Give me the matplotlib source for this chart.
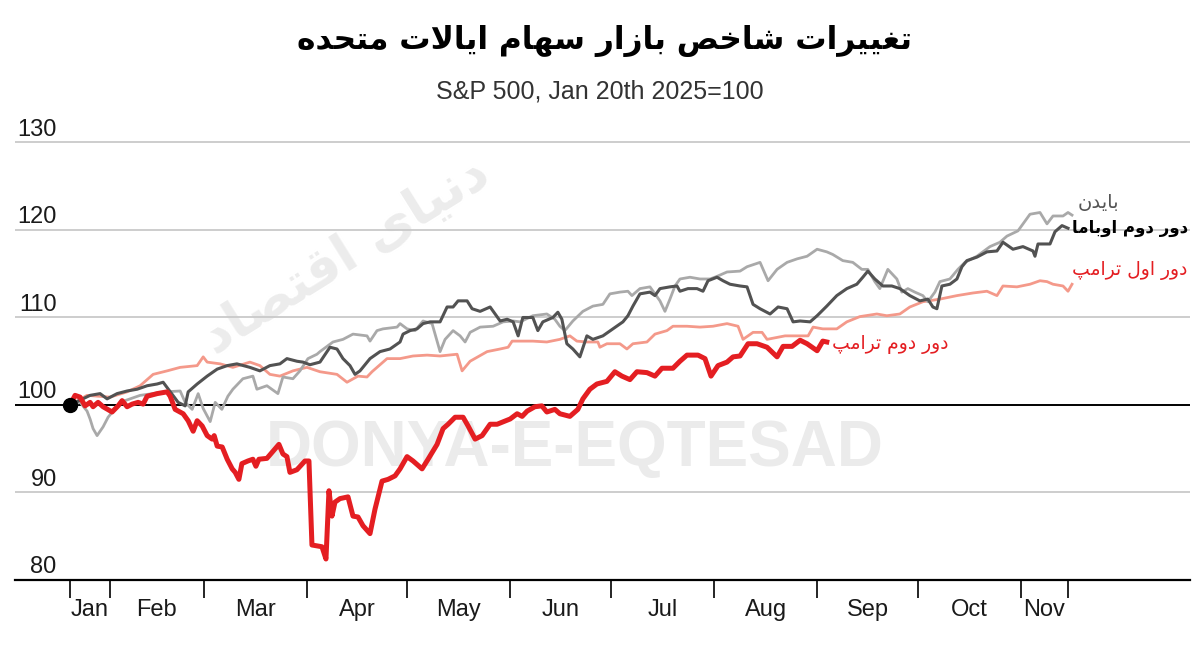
import datetime as dt
import matplotlib
matplotlib.use("Agg")
import matplotlib.pyplot as plt
from matplotlib import font_manager

# ---------------- data (days since Jan 20, index value) ----------------
trump2_days = [0, 1.5, 3.0, 4.5, 6.0, 6.9, 8.4, 9.9, 12.6, 14.4, 15.6, 17.1, 18.6, 20.4, 21.9, 23.1, 26.1,
               29.1, 30.0, 31.5, 33.9, 35.4, 36.9, 38.1, 39.6, 41.1, 42.6, 43.2, 44.1, 45.6, 47.1, 48.6,
               49.5, 50.6, 51.5, 53.3, 54.8, 55.7, 56.6, 59.0, 60.8, 62.6, 63.8, 65.0, 65.9, 68.0, 70.4,
               71.6, 72.5, 75.5, 76.7, 77.6, 78.5, 79.4, 80.9, 83.3, 84.8, 86.3, 87.8, 89.9, 91.4, 93.5,
               95.3, 97.4, 98.9, 101.0, 102.8, 105.5, 107.3, 110.0, 111.8, 113.3, 115.4, 117.8, 119.3,
               121.4, 123.5, 125.9, 128.0, 131.9, 134.0, 135.5, 137.0, 139.3, 141.4, 142.9, 145.3, 146.8,
               149.8, 152.2, 153.7, 155.8, 157.9, 160.9, 163.3, 165.4, 167.8, 169.9, 172.9, 175.3, 177.4,
               180.7, 182.8, 184.9, 188.2, 190.3, 192.1, 194.2, 196.9, 198.7, 200.8, 203.2, 205.9, 208.9,
               211.9, 213.7, 216.4, 218.8, 220.9, 223.9, 225.6, 226.8]
trump2_vals = [100.0, 101.1, 100.9, 99.9, 100.3, 99.8, 100.3, 99.8, 99.2, 99.9, 100.5, 99.8, 100.1, 100.3,
               100.1, 101.0, 101.3, 101.5, 101.0, 99.5, 99.0, 98.2, 97.0, 98.2, 97.6, 96.5, 96.1, 96.5,
               95.3, 95.2, 93.8, 92.7, 92.3, 91.5, 93.3, 93.6, 93.8, 93.0, 93.8, 93.9, 94.7, 95.5, 94.4,
               94.1, 92.3, 92.6, 93.6, 93.6, 84.0, 83.8, 82.4, 90.2, 87.3, 88.9, 89.3, 89.5, 87.3, 87.2,
               86.2, 85.3, 88.1, 91.3, 91.5, 91.9, 92.7, 94.1, 93.6, 92.7, 93.8, 95.5, 97.3, 97.8, 98.6,
               98.6, 97.6, 96.1, 96.5, 97.8, 97.8, 98.4, 99.0, 98.7, 99.3, 99.8, 99.9, 99.2, 99.5, 99.0,
               98.7, 99.5, 100.7, 101.8, 102.4, 102.7, 103.8, 103.3, 102.9, 103.8, 103.7, 103.3, 104.2,
               104.2, 105.0, 105.7, 105.7, 105.3, 103.3, 104.5, 104.9, 105.5, 105.6, 107.0, 107.0, 106.6,
               105.5, 106.7, 106.7, 107.4, 107.0, 106.2, 107.3, 107.2]

trump1_days = [0, 5.1, 12.0, 17.1, 21.0, 24.9, 29.1, 33.0, 38.1, 39.9, 41.1, 45.0, 48.8, 53.9, 56.9, 59.9,
               62.9, 66.8, 71.0, 74.9, 80.0, 83.0, 86.3, 89.0, 90.5, 95.0, 98.9, 102.8, 107.0, 110.9,
               116.0, 117.5, 119.9, 125.0, 128.9, 131.3, 132.5, 138.7, 142.9, 146.8, 149.8, 151.9, 154.9,
               158.2, 158.8, 160.9, 164.8, 166.9, 168.7, 172.9, 175.3, 178.9, 180.7, 184.9, 188.8, 192.7,
               196.9, 200.2, 201.7, 204.7, 207.4, 208.9, 214.3, 221.2, 222.7, 225.6, 229.8, 232.8, 236.7,
               241.8, 244.8, 248.7, 251.7, 255.6, 260.7, 265.8, 270.6, 274.8, 277.8, 279.6, 283.8, 287.7,
               290.7, 292.8, 294.6, 297.6, 299.1, 300.3]
trump1_vals = [100.0, 101.1, 100.9, 101.5, 102.2, 103.5, 103.9, 104.3, 104.5, 105.5, 104.9, 104.7, 104.3,
               104.9, 104.5, 103.5, 103.3, 103.9, 104.3, 103.8, 103.5, 102.6, 103.3, 103.2, 103.8, 105.3,
               105.3, 105.6, 105.7, 105.6, 105.8, 103.9, 105.0, 106.1, 106.4, 106.6, 107.3, 107.3, 107.2,
               107.5, 107.9, 107.3, 107.2, 107.2, 106.6, 107.0, 107.0, 106.4, 107.0, 107.2, 108.1, 108.5,
               109.0, 109.0, 108.9, 109.0, 109.3, 109.0, 107.5, 108.3, 108.3, 107.5, 107.9, 107.9, 108.9,
               108.7, 108.7, 109.5, 110.1, 110.4, 110.2, 110.4, 111.2, 111.8, 112.1, 112.5, 112.8, 113.0,
               112.5, 113.6, 113.5, 113.8, 114.2, 114.1, 113.8, 113.6, 113.0, 113.8]

biden_days = [0, 3.0, 5.1, 6.0, 6.9, 8.1, 9.9, 11.4, 15.0, 21.0, 28.5, 33.0, 34.5, 36.6, 38.4, 39.9, 42.0,
              43.5, 45.5, 47.3, 48.8, 51.8, 54.8, 56.0, 59.0, 62.3, 63.8, 66.8, 68.9, 71.3, 74.0, 74.9,
              78.8, 81.8, 84.8, 89.0, 89.9, 92.0, 93.8, 98.0, 98.9, 101.0, 103.4, 105.8, 108.5, 110.9,
              112.4, 114.8, 116.9, 118.4, 119.9, 122.9, 126.8, 129.8, 132.8, 134.9, 138.7, 142.9, 145.3,
              146.8, 148.3, 150.7, 153.7, 156.7, 159.7, 161.8, 164.8, 167.2, 168.4, 170.8, 173.8, 175.3,
              176.8, 178.3, 179.8, 181.3, 182.8, 185.8, 188.8, 191.8, 193.9, 196.9, 200.8, 202.9, 206.8,
              209.2, 211.9, 214.9, 217.9, 220.9, 223.9, 226.8, 228.6, 231.6, 234.6, 237.3, 239.1, 241.2,
              242.7, 245.1, 247.8, 249.3, 251.1, 253.2, 255.6, 257.1, 259.2, 260.7, 263.7, 266.1, 268.2,
              271.8, 275.7, 278.7, 280.8, 284.1, 287.7, 290.7, 292.8, 294.6, 297.6, 299.1, 300.3]
biden_vals = [100.0, 100.3, 99.3, 98.4, 97.3, 96.5, 97.5, 98.6, 100.3, 101.1, 101.5, 101.6, 100.3, 99.5,
              101.3, 99.6, 98.1, 100.3, 99.5, 101.0, 101.8, 103.0, 103.3, 101.8, 102.2, 101.3, 103.2,
              103.0, 103.9, 105.3, 105.8, 106.1, 107.2, 107.5, 108.1, 107.9, 107.3, 108.5, 108.7, 108.9,
              109.3, 108.7, 108.5, 109.6, 109.3, 106.1, 107.5, 108.5, 107.9, 107.2, 108.3, 108.9, 109.0,
              109.5, 109.6, 109.5, 110.2, 110.4, 109.8, 109.0, 108.5, 109.6, 110.7, 111.3, 111.5, 112.7,
              112.9, 113.0, 112.5, 113.3, 113.5, 112.7, 111.9, 110.7, 112.1, 113.6, 114.4, 114.6, 114.4,
              114.4, 114.7, 115.2, 115.3, 115.8, 116.3, 114.2, 115.5, 116.3, 116.7, 117.0, 117.8, 117.5,
              117.2, 116.5, 116.3, 115.5, 115.5, 114.1, 113.3, 115.5, 114.4, 112.9, 113.3, 112.9, 112.5,
              111.8, 112.9, 114.1, 114.4, 115.5, 116.3, 117.0, 118.1, 118.6, 119.3, 119.9, 121.8, 122.0,
              120.7, 121.6, 121.6, 122.0, 121.7]

obama_days = [0, 6.0, 9.0, 11.1, 14.1, 17.1, 20.1, 23.1, 26.1, 27.9, 32.4, 34.5, 35.4, 38.1, 41.1, 44.1,
              47.1, 50.0, 53.9, 56.9, 59.9, 62.9, 65.0, 68.0, 69.8, 71.9, 74.9, 77.9, 80.0, 81.8, 83.9,
              85.4, 86.9, 89.9, 92.9, 95.9, 98.9, 99.8, 101.9, 104.0, 105.8, 107.9, 110.9, 113.0, 114.8,
              116.3, 119.0, 120.5, 122.9, 125.9, 128.9, 131.0, 132.8, 134.3, 135.7, 138.7, 140.2, 141.7,
              144.7, 146.2, 147.4, 148.9, 150.7, 152.8, 154.9, 156.7, 159.7, 162.7, 165.7, 167.2, 168.7,
              170.8, 173.8, 175.3, 176.8, 179.8, 181.9, 182.8, 185.2, 187.9, 189.7, 191.2, 193.9, 195.7,
              197.8, 200.8, 202.9, 204.7, 206.8, 209.8, 212.2, 214.9, 216.7, 218.8, 221.8, 223.9, 226.8,
              229.8, 232.8, 235.8, 237.6, 239.1, 241.2, 243.6, 246.3, 248.7, 251.7, 254.7, 257.1, 258.6,
              259.8, 261.3, 263.7, 265.8, 267.3, 268.8, 271.8, 274.8, 277.8, 279.6, 282.6, 285.6, 288.6,
              289.2, 290.1, 293.7, 295.2, 297.3, 299.1]
obama_vals = [100.0, 101.1, 101.3, 100.7, 101.3, 101.6, 101.8, 102.2, 102.4, 102.6, 100.3, 99.9, 101.5,
              102.4, 103.3, 104.1, 104.5, 104.7, 104.3, 103.9, 104.5, 104.7, 105.3, 105.0, 104.9, 104.6,
              104.9, 106.6, 106.4, 105.3, 104.5, 103.5, 103.9, 105.3, 106.1, 106.4, 107.2, 108.1, 108.5,
              108.7, 109.3, 109.5, 109.5, 111.2, 111.2, 111.9, 111.9, 111.0, 110.7, 111.2, 109.6, 109.8,
              109.5, 107.9, 110.0, 110.0, 108.5, 109.5, 110.0, 110.6, 109.8, 107.0, 106.4, 105.5, 107.9,
              107.5, 107.9, 108.7, 109.5, 110.2, 111.3, 112.7, 112.9, 112.5, 113.3, 113.5, 113.6, 113.0,
              113.3, 113.3, 113.0, 114.2, 114.6, 114.2, 113.8, 113.6, 113.5, 111.5, 111.0, 110.4, 111.2,
              111.0, 109.5, 109.6, 109.5, 110.2, 111.3, 112.5, 113.3, 113.8, 114.6, 115.3, 114.4, 113.6,
              113.6, 113.3, 112.5, 111.9, 112.1, 111.2, 111.0, 113.6, 113.8, 114.4, 115.8, 116.5, 116.9,
              117.5, 117.6, 118.6, 117.8, 118.1, 117.6, 117.0, 118.4, 118.4, 119.8, 120.5, 120.2]

month_names = ["Jan", "Feb", "Mar", "Apr", "May", "Jun", "Jul", "Aug", "Sep", "Oct", "Nov"]
y_ticks = [80, 90, 100, 110, 120, 130]

title_text = "تغییرات شاخص بازار سهام ایالات متحده"
subtitle_text = "S&P 500, Jan 20th 2025=100"
label_biden = "بایدن"
label_obama = "دور دوم اوباما"
label_trump1 = "دور اول ترامپ"
label_trump2 = "دور دوم ترامپ"
watermark_en = "DONYA-E-EQTESAD"
watermark_fa = "دنیای اقتصاد"

# ---------------- Persian shaping (presentation forms + visual order) ----------------
FORMS = {
    '\u0627': ('\uFE8D', '\uFE8E', None, None),
    '\u0622': ('\uFE81', '\uFE82', None, None),
    '\u0628': ('\uFE8F', '\uFE90', '\uFE91', '\uFE92'),
    '\u067E': ('\uFB56', '\uFB57', '\uFB58', '\uFB59'),
    '\u062A': ('\uFE95', '\uFE96', '\uFE97', '\uFE98'),
    '\u062B': ('\uFE99', '\uFE9A', '\uFE9B', '\uFE9C'),
    '\u062C': ('\uFE9D', '\uFE9E', '\uFE9F', '\uFEA0'),
    '\u0686': ('\uFB7A', '\uFB7B', '\uFB7C', '\uFB7D'),
    '\u062D': ('\uFEA1', '\uFEA2', '\uFEA3', '\uFEA4'),
    '\u062E': ('\uFEA5', '\uFEA6', '\uFEA7', '\uFEA8'),
    '\u062F': ('\uFEA9', '\uFEAA', None, None),
    '\u0630': ('\uFEAB', '\uFEAC', None, None),
    '\u0631': ('\uFEAD', '\uFEAE', None, None),
    '\u0632': ('\uFEAF', '\uFEB0', None, None),
    '\u0698': ('\uFB8A', '\uFB8B', None, None),
    '\u0633': ('\uFEB1', '\uFEB2', '\uFEB3', '\uFEB4'),
    '\u0634': ('\uFEB5', '\uFEB6', '\uFEB7', '\uFEB8'),
    '\u0635': ('\uFEB9', '\uFEBA', '\uFEBB', '\uFEBC'),
    '\u0636': ('\uFEBD', '\uFEBE', '\uFEBF', '\uFEC0'),
    '\u0637': ('\uFEC1', '\uFEC2', '\uFEC3', '\uFEC4'),
    '\u0638': ('\uFEC5', '\uFEC6', '\uFEC7', '\uFEC8'),
    '\u0639': ('\uFEC9', '\uFECA', '\uFECB', '\uFECC'),
    '\u063A': ('\uFECD', '\uFECE', '\uFECF', '\uFED0'),
    '\u0641': ('\uFED1', '\uFED2', '\uFED3', '\uFED4'),
    '\u0642': ('\uFED5', '\uFED6', '\uFED7', '\uFED8'),
    '\u06A9': ('\uFB8E', '\uFB8F', '\uFB90', '\uFB91'),
    '\u06AF': ('\uFB92', '\uFB93', '\uFB94', '\uFB95'),
    '\u0644': ('\uFEDD', '\uFEDE', '\uFEDF', '\uFEE0'),
    '\u0645': ('\uFEE1', '\uFEE2', '\uFEE3', '\uFEE4'),
    '\u0646': ('\uFEE5', '\uFEE6', '\uFEE7', '\uFEE8'),
    '\u0647': ('\uFEE9', '\uFEEA', '\uFEEB', '\uFEEC'),
    '\u0648': ('\uFEED', '\uFEEE', None, None),
    '\u06CC': ('\uFBFC', '\uFBFD', '\uFBFE', '\uFBFF'),
}


def dual(c):
    return c in FORMS and FORMS[c][2] is not None


def shape_fa(text):
    out = []
    chars = list(text)
    i = 0
    n = len(chars)
    while i < n:
        c = chars[i]
        if c not in FORMS:
            out.append(c)
            i += 1
            continue
        prev = chars[i - 1] if i > 0 else ''
        cp = dual(prev)
        if c == '\u0644' and i + 1 < n and chars[i + 1] in ('\u0627', '\u0622'):
            if chars[i + 1] == '\u0627':
                out.append('\uFEFC' if cp else '\uFEFB')
            else:
                out.append('\uFEF6' if cp else '\uFEF5')
            i += 2
            continue
        nxt = chars[i + 1] if i + 1 < n else ''
        cn = dual(c) and nxt in FORMS
        iso, fin, ini, med = FORMS[c]
        if cp and cn:
            g = med
        elif cp:
            g = fin
        elif cn:
            g = ini
        else:
            g = iso
        out.append(g)
        i += 1
    return ''.join(out[::-1])


# ---------------- fonts ----------------
avail = {f.name for f in font_manager.fontManager.ttflist}
narrow = 'Liberation Sans Narrow' if 'Liberation Sans Narrow' in avail else 'Liberation Sans'
LAT = [narrow, 'DejaVu Sans']
FA = ['DejaVu Sans']

# ---------------- x positions from calendar ----------------
base = dt.date(2025, 1, 20)
month_starts = [dt.date(2025, m, 1) for m in range(2, 12)]
tick_days = [0] + [(d - base).days for d in month_starts] + [(dt.date(2025, 11, 15) - base).days]
label_days = [(tick_days[k] + tick_days[k + 1]) / 2 for k in range(len(month_names))]

# ---------------- figure ----------------
fig = plt.figure(figsize=(12, 6.5), dpi=100)
ax = fig.add_axes([0.0125, 0.1077, 0.979, 0.7046])
ax.set_xlim(-16.5, 335.6)
ax.set_ylim(80, 132.34)

for s in ['top', 'right', 'left']:
    ax.spines[s].set_visible(False)
ax.spines['bottom'].set_color('black')
ax.spines['bottom'].set_linewidth(1.6)

for v in y_ticks[1:]:
    if v == 100:
        ax.axhline(v, color='black', lw=1.4, zorder=2)
    else:
        ax.axhline(v, color='#c9c9c9', lw=1.3, zorder=1)

for v in y_ticks:
    ax.text(-4.0, v + 1.45, str(v), ha='right', va='center', fontsize=17,
            family=LAT, color='#1a1a1a')
ax.set_yticks([])

ax.set_xticks(tick_days)
ax.set_xticklabels([''] * len(tick_days))
ax.tick_params(axis='x', which='major', length=13, width=1.2, color='black', direction='out')
ax.set_xticks(label_days, minor=True)
ax.set_xticklabels(month_names, minor=True, fontsize=17, family=LAT, color='#1a1a1a')
ax.tick_params(axis='x', which='minor', length=0, pad=14)

# watermark
ax.text(0.4766, 0.285, watermark_en, transform=ax.transAxes, ha='center', va='center',
        fontsize=46, fontweight='bold', family=['Liberation Sans', 'DejaVu Sans'],
        color='#ebebeb', zorder=0)
ax.text(0.281, 0.71, shape_fa(watermark_fa), transform=ax.transAxes, ha='center', va='center',
        fontsize=38, fontweight='bold', family=FA, color='#ececec', rotation=32, zorder=0)

# lines
ax.plot(trump1_days, trump1_vals, color='#f4998a', lw=2.0, zorder=3, solid_joinstyle='round')
ax.plot(biden_days, biden_vals, color='#a9a9a9', lw=2.0, zorder=4, solid_joinstyle='round')
ax.plot(obama_days, obama_vals, color='#525252', lw=2.2, zorder=5, solid_joinstyle='round')
ax.plot(trump2_days, trump2_vals, color='#e41e22', lw=3.6, zorder=6, solid_joinstyle='round')
ax.plot([trump2_days[0]], [trump2_vals[0]], 'o', color='black', ms=10, zorder=7)

# series labels
lab_fs = 13.5
ax.text(302, 123.1, shape_fa(label_biden), ha='left', va='center', fontsize=lab_fs + 0.5, family=FA,
        color='#555555')
ax.text(335.0, 120.2, shape_fa(label_obama), ha='right', va='center', fontsize=12, family=FA,
        color='black', fontweight='bold')
ax.text(335.0, 115.4, shape_fa(label_trump1), ha='right', va='center', fontsize=lab_fs, family=FA,
        color='#e41e22')
ax.text(228.3, 106.9, shape_fa(label_trump2), ha='left', va='center', fontsize=lab_fs, family=FA,
        color='#e41e22')

# title & subtitle
fig.text(0.504, 0.937, shape_fa(title_text), ha='center', va='center', fontsize=22.5,
         fontweight='bold', family=FA, color='black')
fig.text(0.5, 0.859, subtitle_text, ha='center', va='center', fontsize=18, family=LAT,
         color='#333333')

fig.savefig('out.png', dpi=100, facecolor='white')
